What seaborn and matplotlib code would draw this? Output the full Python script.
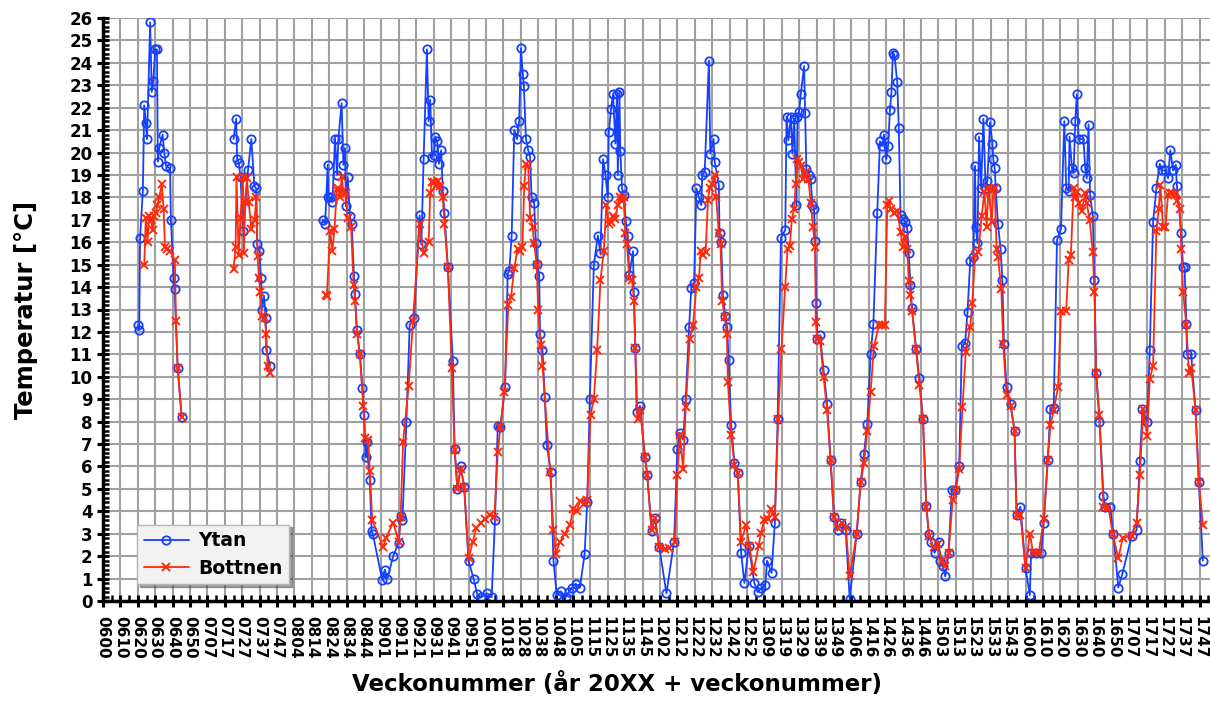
import numpy as np
import pandas as pd
import matplotlib
matplotlib.use("Agg")
import matplotlib.pyplot as plt
import seaborn as sns
from matplotlib.ticker import MultipleLocator
from matplotlib.lines import Line2D

nan = np.nan

# etiketter var 10:e vecka
week_labels = ["0600", "0610", "0620", "0630", "0640", "0650", "0707", "0717", "0727", "0737",
               "0747", "0804", "0814", "0824", "0834", "0844", "0901", "0911", "0921", "0931",
               "0941", "0951", "1008", "1018", "1028", "1038", "1048", "1105", "1115", "1125",
               "1135", "1145", "1202", "1212", "1222", "1232", "1242", "1252", "1309", "1319",
               "1329", "1339", "1349", "1406", "1416", "1426", "1436", "1446", "1503", "1513",
               "1523", "1533", "1543", "1600", "1610", "1620", "1630", "1640", "1650", "1707",
               "1717", "1727", "1737", "1747"]

# Ytan - veckoindex (kategori) och temperatur, nan = avbrott
ytan_wk = [20, 20.8, 21.3, 22.9, 23.7, 24.6, 25.3, 27.1, 28, 28.9, 30, 31, 31.5, 32.3, 34.2, 35.2,
           36.2, 38.5, 39, 40.6, 41.2, 42.9, 45.2, nan,
           75, 76.5, 77.1, 78, 79, 80.6, 83.3, 85.2, 87, 88, 88.5, 89.8, 90.8, 91.2, 92.5, 93.5,
           93.8, 96, nan,
           126.3, 127.6, 129.1, 129.5, 131, 131.8, 133.3, 134.5, 135.2, 137.1, 138.1, 139, 139.6,
           140.6, 141.9, 142.9, 144.2, 144.8, 145.7, 147.6, 149, 150.1, 150.9, 151.4, 153.3, 154.3,
           155, 160.4, 161.9, 163.4, 166.7, 169.9, 171, 172, 174.3, 176.2, 178.7, 181.9, 182.9,
           184.2, 186.1, 187.1, 188, 189, 190.1, 191, 192, 193, 194.3, 195.2, 196.2, 198.1, 201,
           202, 203.6, 205.5, 207.5, 210, 213, 215, 217.2, 220.7, 223.3, 225.2, 226.8, 228.3, 231,
           232.5, 233.4, 234.8, 236.3, 237.8, 239.1, 240.1, 241.2, 241.8, 243, 244.3, 245.4, 246.2,
           247.7, 248.7, 249.6, 250.6, 251.1, 252.5, 253.8, 255, 257.2, 258.8, 260.7, 263, 265.8,
           267.7, 269.6, 271.5, 274, 276.7, 278.2, 279.7, 282, 284.3, 285.8, 287.3, 288.7, 290,
           290.6, 291.9, 293, 294.4, 295.3, 295.8, 296.7, 297.2, 298.2, 299.1, 300.3, 301.4, 302.4,
           304.5, 304.9, 305.8, 306.6, 308.5, 311.4, 312.7, 315.2, 317.1, 319.6, 323.7, 328.1, 330,
           331.4, 333.3, 334.8, 336.7, 338, 339.6, 340.9, 342.4, 343.7, 344.3, 345.7, 348.1, 348.9,
           350.8, 351.4, 353.8, 354.2, 355.2, 356.1, 357.5, 358.6, 359.4, 360.9, 362.8, 364.7, 366.6,
           368.5, 371, 374.2, 376.1, 378, 380.5, 381.5, 384.1, 386, 387.6, 389.5, 392, 392.7, 393.8,
           395.2, 396.1, 397.1, 398.4, 399, 399.9, 400.9, 402.8, 403.4, 404.1, 405.7, 406.6, 407.6,
           408.5, 409.1, 409.8, 410.4, 412, 414, 416, 418, 420, 422, 424, 426.7, 429, 433, 435.3,
           437.2, 439.1, 441, 442.6, 444.8, 446.4, 447.7, 448.7, 450, 451.1, 452.1, 453, 453.8,
           454.7, 456.3, 457.2, 458.2, 459.5, 461, 462, 462.9, 463.9, 464.8, 467.1, 469, 471.1, 473,
           474.4, 475.9, 477.8, 480.1, 481, 482.6, 483.9, 485.8, 487.7, 489.6, 491.9, 493.4, 495.3,
           496.7, 498.2, 500.1, 501, 501.4, 502.4, 503.3, 504.5, 505.8, 507.1, 508.1, 509.6, 511,
           511.5, 512.3, 512.9, 514.2, 515.7, 516.7, 517.6, 519.1, 521.4, 523.7, 524.9, 527.1, 530,
           532.5, 533.2, 536.1, 539, 540.5, 542.8, 544.3, 546.2, 548.1, 550.4, 552.3, 553.4, 554.8,
           555.3, 556.7, 557.6, 558.6, 559.5, 560.5, 563.3, 564.3, 565.2, 566.2, 567.1, 568.7, 569.6,
           570.6, 572.5, 574.8, 575.7, 578.6, 580.5, 583.3, 585.6, 591, 593.8, 595.7, 597.2, 599.9,
           601.4, 603.3, 605.2, 607.1, 608.5, 610.4, 611.9, 613.2, 614.8, 616.3, 617, 619.5, 620.5,
           621.4, 622.4, 622.8, 625.2, 627.7, 629.6, 631.9]
ytan_temp = [12.3, 12.1, 16.2, 18.3, 22.1, 21.3, 20.6, 25.8, 22.7, 23.2, 24.6, 24.6, 19.6, 20.2, 20.8, 20.0,
             19.4, 19.3, 17.0, 14.4, 13.9, 10.4, 8.2, nan,
             20.6, 21.5, 19.7, 19.55, 18.9, 16.5, 19.2, 20.6, 18.5, 18.4, 15.9, 15.6, 14.4, 13.0, 13.6, 12.6,
             11.2, 10.5, nan,
             17.0, 16.8, 19.45, 18.0, 18.0, 17.8, 20.6, 19.0, 20.6, 22.2, 19.45, 20.2, 17.6,
             18.9, 17.15, 16.8, 14.5, 13.7, 12.1, 11.0, 9.5, 8.3, 6.4, 7.1, 5.4, 3.1,
             3.0, 0.94, 1.4, 1.0, 2.0, 2.6, 3.8, 3.6, 8.0, 12.3, 12.6, 17.2, 15.9,
             19.7, 24.6, 21.4, 22.35, 19.8, 19.9, 20.7, 20.5, 19.5, 20.1, 18.3, 17.3, 14.9, 10.7,
             6.8, 5.0, 6.0, 5.1, 1.8, 0.97, 0.3, 0.17, 0.34, 0.17, 3.6, 7.8, 7.75, 9.55,
             14.6, 14.7, 16.3, 21.0, 20.6, 21.4, 24.65, 23.5, 22.95, 20.6, 20.1, 19.8, 18.0,
             17.75, 15.95, 15.05, 14.5, 11.9, 11.2, 9.1, 6.95, 5.75, 1.8, 0.26, 0.43, 0.17,
             0.4, 0.6, 0.77, 0.6, 2.1, 4.4, 9.0, 15.0, 16.3, 15.5, 19.7, 19.0, 18.0,
             20.9, 21.95, 22.6, 20.4, 22.6, 19.0, 22.7, 20.05, 18.4, 18.1, 16.95, 16.3, 14.55,
             15.6, 13.8, 11.3, 8.45, 8.7, 6.4, 5.6, 3.1, 3.7, 2.4, 0.34, 2.65, 6.8,
             7.5, 7.2, 9.0, 12.2, 13.95, 14.2, 18.4, 18.0, 17.65, 19.0, 19.15, 24.1, 19.95,
             20.6, 19.6, 18.55, 16.4, 16.0, 13.65, 12.7, 12.2, 10.75, 7.85, 6.15, 5.7, 2.15,
             0.8, 2.45, 0.8, 0.4, 0.56, 0.7, 1.8, 1.25, 3.5, 8.1, 16.2, 16.55, 21.6, 20.55,
             21.6, 19.95, 21.5, 17.65, 21.6, 21.8, 22.6, 23.85, 21.75, 19.25, 19.0, 18.8, 17.65,
             17.5, 16.05, 13.3, 11.7, 11.85, 10.3, 8.8, 6.3, 3.75, 3.15, 3.5, 3.15, 0.08, 3.0, 5.3,
             6.55, 7.9, 11.0, 12.35, 17.3, 20.5, 20.3, 20.8, 19.7, 20.3, 21.9, 22.7, 24.45,
             24.35, 23.15, 21.1, 17.2, 17.05, 16.9, 16.65, 15.5, 14.1, 13.05, 11.25, 9.95, 8.1, 4.25,
             3.0, 2.65, 2.15, 2.65, 1.8, 1.55, 1.1, 2.15, 4.95, 4.95, 6.0, 11.35, 11.5,
             12.9, 15.15, 15.35, 19.4, 16.7, 15.95, 20.7, 18.4, 21.5, 18.4, 18.75, 21.35, 20.4,
             19.7, 19.3, 18.4, 16.8, 15.7, 14.3, 11.45, 9.55, 8.8, 7.6, 3.85, 4.2, 1.45,
             0.26, 2.15, 2.15, 2.15, 3.5, 6.3, 8.55, 8.6, 16.1, 16.6, 21.4, 18.4, 18.3,
             20.7, 19.3, 19.1, 21.4, 22.6, 20.6, 20.6, 19.3, 18.85, 21.25, 18.1, 17.15, 14.3,
             10.15, 8.0, 4.7, 4.2, 4.2, 3.0, 0.6, 1.2, 2.9, 3.15, 6.25, 8.55, 8.0,
             11.2, 16.9, 18.4, 19.5, 19.2, 19.2, 18.85, 20.1, 19.2, 19.45, 18.5, 16.4, 14.9,
             14.9, 12.35, 11.0, 11.0, 8.5, 5.3, 1.8]

# Bottnen
bott_wk = [23.7, 24.6, 25.6, 26.5, 27.5, 28.5, 29.4, 30.4, 31.3, 32.3, 33.8, 34.8, 35.6, 36.7, 38.5,
           41.3, 41.9, 42.9, 45.2, nan,
           75, 76.2, 76.7, 77.9, 79, 80.4, 80.9, 81.7, 82.7, 83.7, 85.2, 87.1, 88.1, 88.8, 89.6,
           90.4, 91.3, 92.9, 93.8, 94.6, 95.8, nan,
           128.2, 128.6, 130.5, 131.8, 133, 134.3, 135.2, 136.2, 137.1, 138.1, 139.4, 140.6, 142.5,
           144, 144.8, 146.1, 147.6, 149.5, 150.5, 152.4, 153.3, 154.7, 161, 162.5, 166.7, 169.9,
           171, 172.4, 175.6, 178.1, 181.9, 184.2, 187.1, 188, 189, 190.1, 191.4, 192.4, 193.7,
           195.2, 196.2, 198.1, 200.4, 202, 203.6, 205.5, 207.5, 210, 212.5, 214.4, 216.9, 219.5,
           222.6, 224.9, 226.8, 228.3, 230.6, 232.9, 234.4, 236.3, 238.2, 239.7, 241, 242, 243,
           244.3, 245.4, 246.8, 247.7, 249.2, 250, 251.5, 252.5, 256.9, 258.8, 260.1, 262.6, 265.2,
           268.3, 270.2, 272.1, 274, 276.7, 278.2, 280.1, 282, 283.9, 285.8, 287.7, 289.2, 290.6,
           291.9, 293, 294.4, 295.7, 296.9, 298.2, 299.1, 300.1, 301, 302.4, 303.9, 305.2, 305.8,
           307.1, 308.7, 311.4, 312.7, 315.2, 317.1, 319.6, 322.8, 325.3, 328.5, 330, 331.4, 333.3,
           334.8, 337.1, 339, 340.9, 342.4, 343.4, 344.7, 346.2, 347.6, 348.5, 350, 351.4, 352.3,
           353.8, 354.8, 355.7, 357.3, 358.4, 359, 360.9, 362.8, 364.7, 366.6, 369.5, 371.4, 373.7,
           376.7, 378, 379.9, 381.8, 383.7, 386, 387.9, 389.8, 391.9, 393.3, 394.6, 395.8, 397.1,
           398, 399, 399.9, 400.9, 402.2, 403.7, 405.3, 406.6, 407.9, 409.1, 409.5, 410.4, 412, 414,
           416, 418, 420, 422, 424.8, 426.7, 429, 433, 435.3, 437.2, 439.1, 441, 442.9, 445.8,
           447.7, 449.2, 450.6, 451.5, 452.5, 454.4, 456.3, 458.2, 459.5, 461, 462, 462.9, 463.9,
           464.8, 467.1, 469, 471.1, 473, 474.7, 477.2, 479.7, 482, 483.9, 485.8, 488.1, 490, 491.9,
           493.8, 495.7, 498.2, 499.5, 501, 502.9, 504.8, 506.4, 507.7, 508.7, 510.6, 511.5, 512.3,
           513.4, 514.2, 516.1, 517.2, 519.1, 521.4, 523.7, 524.9, 527.1, 530, 532.5, 534.4, 537.6,
           540.5, 542.8, 544.3, 546.2, 548.7, 550.4, 553.4, 554.8, 556.1, 557.6, 558.6, 559.5, 560.5,
           562.4, 564.3, 565.2, 566.8, 568.7, 569.6, 570.6, 572.5, 574.8, 577.6, 580.1, 583.3, 585.8,
           591, 593.8, 595.7, 597.6, 599.9, 601.4, 603.3, 605.2, 606.6, 607.5, 609, 610.4, 611.9,
           612.9, 614.4, 616.3, 617.2, 618.6, 619.5, 620.5, 622.4, 623.9, 625.2, 627.7, 629.6, 631.9]
bott_temp = [15.0, 17.1, 16.0, 17.15, 17.0, 16.55, 17.15, 17.3, 17.65, 18.0, 18.6, 17.5, 15.8, 15.7, 15.6,
             15.2, 12.5, 10.4, 8.2, nan,
             14.8, 15.8, 18.9, 15.45, 17.1, 18.9, 15.5, 17.8, 18.85, 17.8, 16.6, 17.0, 18.0, 15.4, 14.4,
             13.8, 12.7, 12.6, 11.9, 10.5, 10.15, nan,
             13.65, 13.6, 16.5, 15.6, 16.6, 18.35, 18.4, 18.0, 18.9, 18.3, 18.2, 17.1, 16.7,
             14.1, 13.4, 11.9, 11.0, 8.7, 7.25, 7.2, 5.8, 3.6, 2.4, 2.8, 3.5, 2.65,
             3.75, 7.1, 9.6, 12.5, 16.8, 15.5, 16.0, 18.2, 18.7, 18.7, 18.5, 18.75, 18.5,
             18.0, 16.8, 14.9, 10.4, 6.75, 5.0, 5.9, 5.1, 1.9, 2.65, 3.25, 3.5, 3.65,
             3.85, 3.75, 6.65, 7.75, 9.3, 13.2, 13.55, 14.85, 15.7, 15.6, 15.8, 18.5, 19.5,
             19.4, 17.1, 16.7, 15.95, 15.0, 13.0, 11.4, 10.5, 5.75, 3.15, 2.1, 2.65, 3.0,
             3.4, 4.1, 4.0, 4.45, 4.35, 4.5, 8.3, 9.0, 11.2, 14.3, 15.6, 17.65, 16.8,
             16.9, 17.15, 17.05, 17.65, 18.0, 17.85, 18.0, 16.4, 15.9, 14.4, 14.3, 13.4, 11.3,
             8.1, 8.5, 6.4, 5.6, 3.15, 3.7, 2.4, 2.3, 2.35, 2.65, 5.6, 7.4, 5.9,
             8.65, 11.7, 12.3, 14.0, 14.4, 15.6, 15.45, 15.55, 17.9, 18.4, 18.6, 19.0, 18.0,
             16.4, 15.9, 13.4, 12.65, 11.9, 9.75, 7.4, 6.05, 5.7, 2.65, 3.4, 2.45, 1.3,
             2.45, 3.05, 3.6, 3.65, 4.1, 3.75, 8.1, 11.25, 14.0, 15.7, 15.85, 17.05, 17.5,
             18.6, 19.7, 19.6, 19.4, 18.8, 19.15, 18.8, 17.75, 16.7, 15.8, 12.45, 11.7, 11.6, 10.0,
             8.5, 6.3, 3.75, 3.25, 3.5, 3.3, 1.1, 3.0, 5.3, 6.15, 7.6, 9.3, 11.35, 12.3,
             12.3, 12.3, 17.65, 17.85, 17.5, 17.3, 17.4, 16.45, 15.8, 16.25, 15.7, 14.25, 13.65,
             12.95, 11.25, 9.65, 8.1, 4.2, 2.9, 2.4, 2.55, 1.8, 1.55, 2.15, 4.5, 4.95, 5.9,
             8.65, 11.1, 12.2, 13.3, 15.45, 15.55, 17.15, 18.25, 16.7, 18.4, 16.9, 18.35, 18.4,
             15.7, 15.35, 13.9, 11.45, 9.2, 8.7, 7.6, 3.85, 3.85, 1.45, 3.0, 2.15, 2.15,
             3.65, 6.3, 7.85, 8.5, 9.55, 12.95, 12.95, 15.2, 15.45, 18.4, 18.0, 18.25, 17.75,
             17.4, 18.2, 17.75, 17.0, 15.55, 13.8, 10.15, 8.3, 4.2, 4.2, 3.0, 1.9, 2.8,
             2.9, 3.5, 5.6, 8.55, 7.35, 9.9, 10.5, 16.5, 17.5, 18.55, 16.7, 16.7, 18.1,
             18.2, 18.2, 18.2, 17.85, 17.5, 15.7, 13.8, 12.3, 10.15, 10.4, 8.5, 5.3, 3.4]

blue = "#1540ff"
red = "#ff2a0c"


def to_frame(wk, temp):
    df = pd.DataFrame({"wk": wk, "temp": temp})
    df["seg"] = df["temp"].isna().cumsum()
    return df.dropna()


ytan = to_frame(ytan_wk, ytan_temp)
bott = to_frame(bott_wk, bott_temp)

sns.set_theme(style="white")
plt.rcParams["font.family"] = ["DejaVu Sans"]
plt.rcParams["font.weight"] = "bold"
plt.rcParams["text.color"] = "black"
plt.rcParams["axes.labelcolor"] = "black"
plt.rcParams["xtick.color"] = "black"
plt.rcParams["ytick.color"] = "black"

fig = plt.figure(figsize=(12.1, 7.01), dpi=100)
ax = fig.add_axes([103 / 1210, 1 - 601 / 701, 1 - 103 / 1210, 583 / 701])
ax.set_axisbelow(True)

sns.lineplot(data=ytan, x="wk", y="temp", units="seg", estimator=None, sort=False, ax=ax,
             color=blue, lw=1.3, marker="o", markersize=6, mfc="none", mec=blue, mew=1.3)
sns.lineplot(data=bott, x="wk", y="temp", units="seg", estimator=None, sort=False, ax=ax,
             color=red, lw=1.3, marker="x", markersize=6, mec=red, mew=1.4)

ax.set_xlim(0, 636)
ax.set_ylim(0, 26)
ax.set_xticks(np.arange(len(week_labels)) * 10)
ax.set_xticklabels(week_labels, rotation=270, fontsize=11, fontweight="bold", color="black")
ax.xaxis.set_minor_locator(MultipleLocator(5))
ax.yaxis.set_major_locator(MultipleLocator(1))
ax.yaxis.set_minor_locator(MultipleLocator(0.2))
for t in ax.get_yticklabels():
    t.set_fontsize(12)
    t.set_fontweight("bold")
    t.set_color("black")

ax.grid(True, which="major", color="#a0a0a0", lw=1.5)
ax.tick_params(axis="both", which="major", direction="inout", length=9, width=2.2, color="black", pad=3)
ax.tick_params(axis="x", which="major", pad=6)
ax.tick_params(axis="both", which="minor", direction="in", length=4, width=1.8, color="black")
ax.tick_params(left=True, bottom=True, which="both")

for s in ["top", "right"]:
    ax.spines[s].set_visible(False)
for s in ["left", "bottom"]:
    ax.spines[s].set_color("black")
    ax.spines[s].set_linewidth(2.5)

ax.set_ylabel("Temperatur [°C]", fontsize=17.5, fontweight="bold", color="black")
ax.yaxis.set_label_coords(-0.0587, 0.5)
ax.set_xlabel("Veckonummer (år 20XX + veckonummer)", fontsize=16.5, fontweight="bold", color="black")
ax.xaxis.set_label_coords(0.464, -0.122)

handles = [Line2D([], [], color=blue, lw=1.3, marker="o", mfc="none", mec=blue, markersize=6, mew=1.3),
           Line2D([], [], color=red, lw=1.3, marker="x", mec=red, markersize=6, mew=1.4)]
leg = ax.legend(handles, ["Ytan", "Bottnen"], loc="lower left", bbox_to_anchor=(0.031, 0.029),
                borderaxespad=0, prop={"weight": "bold", "size": 13.5}, frameon=True, fancybox=False,
                shadow=True, framealpha=1, facecolor="#f2f2f2", edgecolor="#b5b5b5", handlelength=2.4,
                borderpad=0.35, labelspacing=0.45, handletextpad=0.5)
for t in leg.get_texts():
    t.set_color("black")

fig.savefig("out.png", dpi=100)
